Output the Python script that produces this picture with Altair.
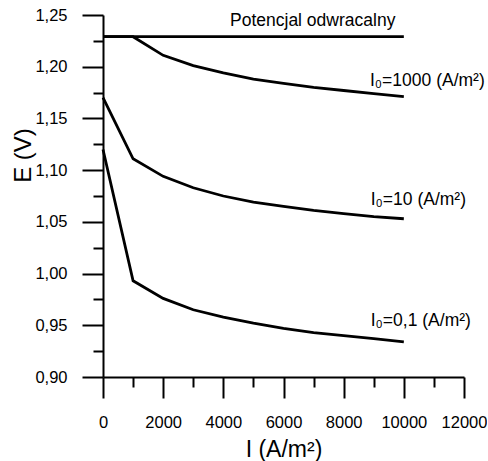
import altair as alt
import pandas as pd

# ---- data ----
current = [0, 1000, 2000, 3000, 4000, 5000, 6000, 7000, 8000, 9000, 10000]
e_reversible = [1.229, 1.229, 1.229, 1.229, 1.229, 1.229, 1.229, 1.229, 1.229, 1.229, 1.229]
e_i0_1000 = [1.229, 1.229, 1.211, 1.201, 1.194, 1.188, 1.184, 1.180, 1.177, 1.174, 1.171]
e_i0_10 = [1.170, 1.111, 1.094, 1.083, 1.075, 1.069, 1.065, 1.061, 1.058, 1.055, 1.053]
e_i0_01 = [1.120, 0.993, 0.976, 0.965, 0.958, 0.952, 0.947, 0.943, 0.940, 0.937, 0.934]
series_names = ["rev", "i1000", "i10", "i01"]

x_major = [0, 2000, 4000, 6000, 8000, 10000, 12000]
x_minor = [1000, 3000, 5000, 7000, 9000, 11000]
y_major = [0.90, 0.95, 1.00, 1.05, 1.10, 1.15, 1.20, 1.25]
y_minor = [0.925, 0.975, 1.025, 1.075, 1.125, 1.175, 1.225]

label_text = ["Potencjal odwracalny", "I₀=1000 (A/m²)", "I₀=10 (A/m²)", "I₀=0,1 (A/m²)"]
label_x = [4222, 8875, 8900, 8900]
label_y = [1.2394, 1.1813, 1.0662, 0.9492]

# ---- build table ----
rows = []
for name, vals in zip(series_names, [e_reversible, e_i0_1000, e_i0_10, e_i0_01]):
    for i, e in zip(current, vals):
        rows.append({"series": name, "I": i, "E": e})
df = pd.DataFrame(rows)
labels = pd.DataFrame({"text": label_text, "I": label_x, "E": label_y})

FONT = "Liberation Sans"
xscale = alt.Scale(domain=[0, 12000], nice=False, zero=False)
yscale = alt.Scale(domain=[0.90, 1.25], nice=False, zero=False)

lines = alt.Chart(df).mark_line(color="black", strokeWidth=2.8).encode(
    x=alt.X("I:Q", scale=xscale, axis=alt.Axis(
        orient="bottom", values=x_major, tickSize=21, labelPadding=16,
        format="d", labelFlush=False, title="I (A/m²)", titleY=61, titleBaseline="top")),
    y=alt.Y("E:Q", scale=yscale, axis=alt.Axis(
        orient="left", values=y_major, tickSize=21, labelPadding=15,
        labelExpr="replace(format(datum.value, '.2f'), '.', ',')",
        title="E (V)", titleX=-68, titleY=140, titleFontSize=24)),
    detail="series:N",
)

minor = alt.Chart(df).mark_point(opacity=0).encode(
    x=alt.X("I:Q", scale=xscale, axis=alt.Axis(
        orient="bottom", values=x_minor, tickSize=10, labels=False, domain=False, title=None)),
    y=alt.Y("E:Q", scale=yscale, axis=alt.Axis(
        orient="left", values=y_minor, tickSize=10, labels=False, domain=False, title=None)),
)

texts = alt.Chart(labels).mark_text(
    align="left", baseline="alphabetic", font=FONT, fontSize=17.5, color="black"
).encode(
    x=alt.X("I:Q", scale=xscale, axis=None),
    y=alt.Y("E:Q", scale=yscale, axis=None),
    text="text:N",
)

chart = alt.layer(lines, minor, texts).resolve_axis(x="independent", y="independent").properties(
    width=361, height=362, padding={"left": 11, "top": 7, "right": 0, "bottom": 0}
).configure_view(stroke=None).configure_axis(
    grid=False, domainColor="black", domainWidth=2, tickColor="black", tickWidth=2,
    labelColor="black", labelFont=FONT, labelFontSize=16.5, titleFont=FONT,
    titleFontSize=23, titleFontWeight="normal", titleColor="black",
)

chart.save("out.html", embed_options={"renderer": "svg", "actions": False})
